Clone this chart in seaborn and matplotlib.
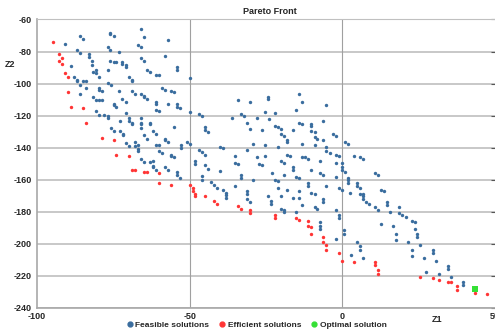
import matplotlib
matplotlib.use('Agg')
import matplotlib.pyplot as plt
from matplotlib.lines import Line2D
import pandas as pd
import seaborn as sns

# (Z1, Z2) values
feasible = [
    (-85.8, -70.0), (-84.8, -72.1), (-90.8, -75.0), (-76.0, -68.2), (-76.0, -69.0), (-74.9, -70.0),
    (-66.0, -66.1), (-64.9, -70.9), (-67.0, -75.8), (-66.0, -76.9), (-76.9, -76.9), (-76.0, -78.9),
    (-86.8, -78.9), (-85.8, -80.8), (-82.9, -81.8), (-82.9, -83.7), (-73.0, -80.0), (-57.2, -72.9),
    (-58.0, -82.9), (-88.8, -88.9), (-81.9, -85.8), (-81.9, -88.7), (-76.0, -86.0), (-74.9, -86.8),
    (-74.0, -86.8), (-72.0, -86.8), (-72.0, -87.8), (-71.0, -88.7), (-71.0, -89.7), (-66.0, -83.9),
    (-64.9, -85.8), (-81.8, -92.8), (-80.8, -91.8), (-80.8, -93.6), (-76.9, -91.8), (-64.0, -91.8),
    (-63.1, -92.8), (-61.0, -94.7), (-60.0, -94.7), (-87.9, -95.7), (-86.8, -97.8), (-86.8, -98.6),
    (-84.8, -98.6), (-83.9, -98.6), (-85.8, -100.7), (-79.8, -95.7), (-76.9, -99.6), (-75.8, -100.7),
    (-69.9, -95.7), (-68.9, -97.8), (-68.9, -98.6), (-83.9, -102.7), (-79.8, -102.7), (-79.8, -103.8),
    (-78.7, -104.6), (-73.0, -104.6), (-68.9, -104.6), (-68.0, -106.7), (-66.0, -106.7), (-64.9, -107.5),
    (-64.9, -108.5), (-64.0, -109.6), (-59.0, -102.7), (-58.0, -103.8), (-85.8, -106.7), (-81.8, -108.5),
    (-80.8, -110.6), (-79.8, -110.6), (-78.7, -110.6), (-74.9, -112.5), (-74.9, -113.5), (-74.0, -114.5),
    (-72.0, -109.6), (-71.0, -111.4), (-61.0, -111.4), (-61.0, -112.5), (-57.0, -112.5), (-61.0, -116.4),
    (-60.0, -117.4), (-80.8, -117.4), (-78.0, -119.5), (-76.9, -120.3), (-76.9, -121.4), (-71.0, -118.5),
    (-69.9, -121.4), (-66.0, -121.4), (-79.8, -119.5),
    (-69.9, -123.4), (-72.9, -123.4), (-68.9, -124.5), (-68.9, -125.5), (-66.0, -124.5), (-66.0, -125.5),
    (-66.0, -128.0), (-63.1, -124.5), (-63.1, -125.5), (-75.9, -127.6), (-74.9, -129.4), (-72.9, -129.4),
    (-71.9, -131.3), (-71.9, -132.3), (-62.0, -129.4), (-61.0, -131.3), (-65.0, -132.3), (-64.0, -134.4),
    (-58.0, -134.4), (-58.0, -135.2), (-57.0, -136.3), (-70.9, -137.3), (-69.9, -139.2), (-67.8, -136.3),
    (-67.8, -139.2), (-67.0, -138.3), (-67.0, -141.2), (-67.0, -142.3), (-61.0, -138.3), (-60.0, -138.3),
    (-60.0, -142.3), (-58.9, -143.3), (-66.0, -147.3), (-65.0, -149.3), (-62.9, -149.3), (-62.0, -148.3),
    (-62.0, -151.4), (-62.0, -152.4), (-58.0, -152.2), (-61.0, -154.3), (-57.0, -154.3),
    (-56.0, -104.4), (-55.0, -105.5), (-54.1, -112.5), (-54.1, -114.4), (-53.1, -115.4), (-50.0, -117.5),
    (-34.1, -110.6), (-30.1, -111.5), (-24.2, -108.6), (-24.2, -109.6), (-47.1, -119.3), (-46.1, -120.4),
    (-36.1, -121.4), (-33.1, -119.3), (-32.2, -120.4), (-28.1, -121.4), (-25.2, -117.5), (-22.1, -118.5),
    (-24.1, -122.4), (-31.2, -124.5), (-30.1, -128.2), (-55.0, -127.4), (-45.1, -127.4), (-45.1, -129.1),
    (-44.1, -130.3), (-26.2, -129.3), (-22.1, -126.4), (-21.2, -127.4), (-20.2, -128.2), (-16.2, -129.3),
    (-20.2, -131.8), (-19.2, -132.8), (-18.1, -135.1), (-53.0, -138.6), (-53.0, -140.2), (-51.0, -136.5),
    (-50.0, -137.6), (-40.1, -139.4), (-39.0, -140.2), (-29.2, -137.6), (-25.2, -138.6), (-21.2, -139.4),
    (-18.1, -136.5), (-56.0, -144.4), (-56.0, -145.4), (-55.0, -146.2), (-47.1, -141.5), (-46.1, -142.5),
    (-45.1, -144.4), (-48.1, -148.3), (-48.1, -150.2), (-45.1, -151.2), (-44.1, -153.3), (-40.1, -154.9),
    (-35.1, -145.4), (-31.2, -141.5), (-35.1, -149.4), (-34.1, -150.2), (-28.1, -146.2), (-27.2, -150.4),
    (-26.2, -151.2), (-25.2, -145.4), (-20.2, -148.3), (-19.2, -149.4), (-18.1, -144.4), (-17.1, -145.4),
    (-16.2, -152.3), (-16.2, -154.1), (-54.1, -155.2), (-54.1, -157.0), (-53.1, -159.1), (-46.1, -158.0),
    (-46.1, -160.3), (-43.1, -161.4), (-33.1, -157.0), (-33.1, -159.1), (-29.1, -160.3), (-23.1, -156.2),
    (-22.1, -160.1), (-21.2, -161.2), (-19.2, -157.0), (-54.0, -89.7), (-54.0, -91.8), (-50.0, -96.8),
    (-42.1, -163.4), (-41.1, -165.3), (-39.0, -166.3), (-38.2, -168.4), (-38.2, -169.4), (-38.2, -171.3),
    (-35.1, -164.3), (-31.2, -167.4), (-31.2, -169.2), (-31.2, -172.1), (-30.1, -174.2), (-21.2, -165.3),
    (-20.2, -170.1), (-24.2, -170.1), (-23.2, -173.2), (-23.2, -175.2), (-18.1, -166.3), (-16.2, -171.3),
    (-20.2, -178.3), (-19.2, -179.2), (-19.2, -180.2),
    (-14.1, -106.7), (-13.2, -111.7), (-15.1, -116.6), (-5.2, -113.5), (-6.2, -123.5), (-14.1, -124.5),
    (-13.2, -125.5), (-10.1, -125.5), (-10.1, -126.6), (-10.1, -129.5), (-9.1, -130.5), (-9.1, -133.4),
    (-8.2, -134.4), (-6.2, -135.5), (-3.1, -131.5), (-2.2, -132.6), (0.8, -136.5), (1.9, -137.6),
    (-13.2, -137.6), (-9.1, -138.6), (-5.2, -139.4), (-5.2, -142.3), (-4.2, -143.6), (-2.2, -144.4),
    (-1.2, -145.4), (-13.2, -146.2), (-12.2, -146.2), (-11.2, -147.3), (-7.2, -148.3), (-2.2, -149.4),
    (-0.2, -149.4), (3.7, -145.4), (5.8, -146.2), (6.8, -147.3), (-10.1, -154.1), (-7.2, -156.2),
    (-6.2, -157.2), (-0.2, -152.3), (-0.2, -154.1), (0.8, -155.2), (-2.2, -158.3), (-15.1, -158.3),
    (-14.1, -159.3), (-11.2, -162.0), (1.9, -159.3), (1.9, -160.3), (1.9, -162.0), (4.8, -162.0),
    (10.8, -156.2), (11.8, -157.2),
    (-11.2, -164.3), (-5.2, -164.3), (-1.2, -165.3), (-0.2, -166.3), (4.7, -164.3), (5.8, -165.3),
    (-14.1, -167.4), (-14.1, -171.3), (-10.1, -168.4), (-9.1, -169.2), (-6.2, -172.3), (-6.2, -174.2),
    (-13.3, -176.1), (-15.2, -180.2), (-9.1, -177.1), (-8.2, -178.1), (-2.2, -179.2), (-1.2, -182.1),
    (-1.2, -183.9), (2.6, -168.2), (5.8, -169.2), (6.8, -169.2), (6.8, -170.3), (6.8, -172.3),
    (7.8, -174.2), (8.7, -175.2), (10.8, -177.1), (11.7, -179.2), (12.8, -166.3), (13.7, -167.4),
    (14.7, -174.2), (14.7, -176.1), (15.7, -180.2), (18.6, -177.1), (18.6, -181.2), (19.7, -182.1),
    (20.7, -183.1), (22.7, -186.0), (23.7, -186.8), (12.8, -187.9), (16.7, -188.9), (23.7, -191.0),
    (24.6, -193.9), (24.6, -195.9), (17.7, -193.9), (17.7, -197.8), (21.6, -198.8), (22.7, -203.8),
    (22.7, -207.7), (0.7, -191.8), (0.7, -193.9), (-2.2, -197.0), (4.7, -198.8), (5.8, -201.7),
    (5.8, -203.8), (2.7, -206.9), (6.8, -208.8), (-7.2, -186.8), (-7.2, -188.9), (-7.2, -190.8),
    (25.6, -200.9), (29.6, -203.8), (29.6, -205.9), (26.6, -208.8), (30.6, -210.8), (27.5, -217.9),
    (31.6, -218.9), (34.6, -213.7), (34.6, -215.8), (35.5, -220.8), (39.5, -223.9), (39.5, -225.9),
]

efficient = [
    (-94.9, -74.0), (-92.8, -81.8), (-91.8, -83.9), (-92.8, -86.0), (-91.8, -87.8), (-90.8, -93.6),
    (-89.8, -95.7), (-89.8, -105.6), (-88.8, -114.8), (-84.8, -115.6),
    (-83.9, -124.5), (-78.8, -134.2), (-74.9, -135.2), (-74.0, -144.4), (-69.9, -145.4), (-68.9, -154.3),
    (-68.0, -154.3), (-65.0, -155.3), (-64.0, -155.3), (-60.0, -156.2), (-60.0, -162.2),
    (-56.0, -163.2), (-50.0, -163.2), (-49.0, -165.3), (-49.0, -167.4), (-48.1, -169.2), (-48.1, -170.1),
    (-45.1, -170.1), (-42.1, -173.2), (-41.1, -175.2), (-34.1, -176.3), (-33.1, -178.1), (-30.1, -179.2),
    (-30.1, -181.0), (-22.1, -182.1), (-22.1, -184.1),
    (-15.1, -183.9), (-14.1, -185.2), (-11.2, -186.0), (-11.2, -188.9), (-10.1, -189.9), (-10.1, -193.9),
    (-6.2, -195.9), (-6.2, -198.8), (-5.2, -200.9), (-5.2, -203.8), (-1.2, -205.7), (-0.2, -210.6),
    (3.7, -211.7), (10.8, -211.7), (10.8, -213.5), (11.8, -216.6), (11.8, -218.7),
    (25.6, -220.8), (29.6, -221.8), (31.6, -222.8), (34.6, -223.9), (35.6, -223.9), (37.6, -226.8),
    (37.6, -228.8), (43.5, -230.7), (47.5, -231.7),
]

optimal = [(43.5, -228.2)]

x_ticks = [-100, -50, 0, 50]
y_ticks = [-240, -220, -200, -180, -160, -140, -120, -100, -80, -60]

df_feas = pd.DataFrame(feasible, columns=['Z1', 'Z2'])
df_eff = pd.DataFrame(efficient, columns=['Z1', 'Z2'])
df_opt = pd.DataFrame(optimal, columns=['Z1', 'Z2'])

sns.set_style('white')
plt.rcParams['font.family'] = ['Liberation Sans', 'DejaVu Sans']

blue = '#3a6d9e'
red = '#ff3535'
green = '#35e035'

fig = plt.figure(figsize=(4.95, 3.35), dpi=100)
ax = fig.add_axes([37 / 495, 27.4 / 335, 458 / 495, 288.1 / 335])

# grid first so the dots sit on top
for y in y_ticks:
    ax.axhline(y, color='#c8c8c8', lw=1.4, zorder=0)
for x in [-50, 0]:
    ax.axvline(x, color='#a0a0a0', lw=0.8, zorder=0)

sns.scatterplot(data=df_feas, x='Z1', y='Z2', ax=ax, color=blue, s=6, marker='o', linewidth=0, legend=False, zorder=3)
sns.scatterplot(data=df_eff, x='Z1', y='Z2', ax=ax, color=red, s=6, marker='o', linewidth=0, legend=False, zorder=3)
sns.scatterplot(data=df_opt, x='Z1', y='Z2', ax=ax, color=green, s=22, marker='s', linewidth=0, legend=False, zorder=4)

ax.set_xlim(-100, 50)
ax.set_ylim(-240, -60)
ax.set_xticks(x_ticks)
ax.set_yticks(y_ticks)
ax.set_xticklabels([str(v) for v in x_ticks], fontsize=6.5, fontweight='bold')
ax.set_yticklabels([str(v) for v in y_ticks], fontsize=6.5, fontweight='bold')
ax.tick_params(axis='x', length=0, pad=3)
ax.tick_params(axis='y', left=False, right=True, direction='in', length=3, color='#555555', pad=4)

for side in ['left', 'bottom']:
    ax.spines[side].set_color('#a8a8a8')
    ax.spines[side].set_linewidth(1.2)
ax.spines['top'].set_color('#c0c0c0')
ax.spines['right'].set_visible(False)

ax.set_xlabel('Z1', fontsize=6.5, fontweight='bold', ha='center', va='center')
ax.xaxis.set_label_coords((437 - 37) / 458, -(320 - 307.6) / 288.1)
ax.set_ylabel('Z2', fontsize=6.5, fontweight='bold', rotation=0, ha='center', va='center')
ax.yaxis.set_label_coords((10 - 37) / 458, 1 - (65 - 19.5) / 288.1)

fig.text(270 / 495, 1 - 12 / 335, 'Pareto Front', ha='center', va='center', fontsize=6.5, fontweight='bold')

handles = [
    Line2D([], [], marker='o', color=blue, linestyle='none', markersize=3.5),
    Line2D([], [], marker='o', color=red, linestyle='none', markersize=3.5),
    Line2D([], [], marker='o', color=green, linestyle='none', markersize=3.5),
]
fig.legend(handles, ['Feasible solutions', 'Efficient solutions', 'Optimal solution'],
           loc='center', bbox_to_anchor=(256 / 495, 1 - 325 / 335), ncol=3, frameon=False,
           prop={'size': 6, 'weight': 'bold'}, handletextpad=0.2, columnspacing=1.0,
           handlelength=1.0, borderpad=0)

fig.savefig('out.png', dpi=100)
